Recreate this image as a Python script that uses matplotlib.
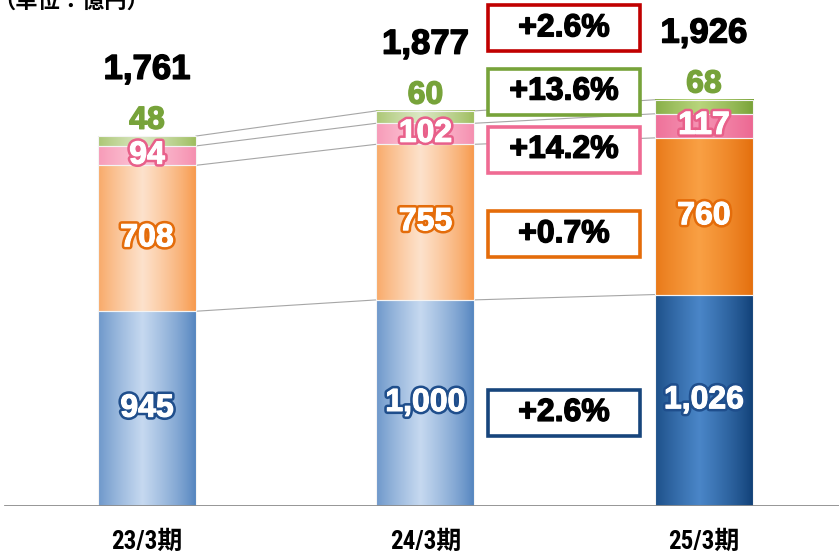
import numpy as np
import matplotlib.pyplot as plt
import matplotlib.patheffects as pe
from matplotlib.patches import Rectangle
from matplotlib.colors import to_rgb

# データ（単位：億円）
periods = ['23/3期', '24/3期', '25/3期']
blue_vals = [945, 1000, 1026]
orange_vals = [708, 755, 760]
pink_vals = [94, 102, 117]
green_vals = [48, 60, 68]
totals = ['1,761', '1,877', '1,926']
growth = ['+2.6%', '+13.6%', '+14.2%', '+0.7%', '+2.6%']

# グラデーション色 (端, 中央)
old_cols = [('#4f81bd', '#c6d9f0'), ('#f79646', '#fde2cc'),
            ('#f58cad', '#fcc6d7'), ('#9bbb59', '#dbe8c4')]
new_cols = [('#0e3d73', '#4a86c8'), ('#e36c0a', '#f9a044'),
            ('#ec6590', '#f593b3'), ('#76a035', '#b8d57c')]
stroke_cols = ['#1f4e8c', '#e46c0a', '#e8608a']
green_txt = '#77a33a'
box_cols = ['#c00000', '#77a33a', '#ef6b93', '#e46c0a', '#17457c']
box_y = [0.944, 0.819, 0.704, 0.537, 0.184]  # 軸座標での中心

plt.rcParams['font.family'] = ['Liberation Sans', 'Noto Sans CJK JP']
plt.rcParams['font.weight'] = 'bold'

fig = plt.figure(figsize=(8.39, 5.52), dpi=100)
ax = fig.add_axes([0, 46 / 552, 1, 506 / 552])

x = np.arange(len(periods))
w = 0.352
series = [blue_vals, orange_vals, pink_vals, green_vals]


def gradient(edge, center, n=200):
    u = np.linspace(0, 1, n)
    t = (1 - np.abs(2 * u - 0.9) / 1.1) ** 0.8
    t = np.clip(t, 0, 1)
    e = np.array(to_rgb(edge))
    c = np.array(to_rgb(center))
    return (e[None, :] + (c - e)[None, :] * t[:, None])[None, :, :]


def heavy(col, lw=1.0):
    # 太字を少し太く見せる
    return [pe.withStroke(linewidth=lw, foreground=col)]


bottoms = np.zeros(len(periods))
levels = []
for k, vals in enumerate(series):
    bars = ax.bar(x, vals, w, bottom=bottoms, facecolor='none',
                  edgecolor='#f4f4f4', linewidth=0.8, zorder=3)
    for i, b in enumerate(bars):
        cols = new_cols[k] if i == 2 else old_cols[k]
        ax.imshow(gradient(*cols), aspect='auto', zorder=2,
                  extent=[b.get_x(), b.get_x() + b.get_width(),
                          b.get_y(), b.get_y() + b.get_height()])
        cy = b.get_y() + b.get_height() / 2
        if k < 3:
            ax.text(b.get_x() + b.get_width() / 2, cy, f'{vals[i]:,}',
                    ha='center', va='center', color='white', fontsize=23,
                    zorder=6,
                    path_effects=[pe.withStroke(linewidth=4.5, foreground=stroke_cols[k]),
                                  pe.withStroke(linewidth=0.8, foreground='white')])
        else:
            ax.annotate(f'{vals[i]}', (b.get_x() + b.get_width() / 2, b.get_y() + b.get_height()),
                        xytext=(0, 11), textcoords='offset points',
                        ha='center', va='center', color=green_txt, fontsize=23,
                        path_effects=heavy(green_txt))
    bottoms = bottoms + np.array(vals)
    levels.append(bottoms.copy())

# 合計
for i, t in enumerate(totals):
    ax.annotate(t, (x[i], levels[-1][i]), xytext=(0, 48), textcoords='offset points',
                ha='center', va='center', color='black', fontsize=25,
                path_effects=heavy('black'))

# 連結線
for i in range(len(periods) - 1):
    for lv in levels:
        ax.plot([x[i] + w / 2, x[i + 1] - w / 2], [lv[i], lv[i + 1]],
                color='#a6a6a6', linewidth=0.8, zorder=1)

# 伸び率ボックス
bw, bh = 152 / 839, 46 / 506
bx = 564 / 839
for txt, col, yc in zip(growth, box_cols, box_y):
    ax.add_patch(Rectangle((bx - bw / 2, yc - bh / 2), bw, bh, transform=ax.transAxes,
                           facecolor='white', edgecolor=col, linewidth=2.6, zorder=7))
    ax.text(bx, yc, txt, transform=ax.transAxes, ha='center', va='center',
            fontsize=23, color='black', zorder=8, path_effects=heavy('black'))

ax.axhline(0, xmin=5 / 839, xmax=1, color='#8c8c8c', linewidth=2, zorder=5)

ax.set_xlim(-0.528, 2.485)
ax.set_ylim(0, 2455)
ax.set_xticks(x, labels=periods)
for lab in ax.get_xticklabels():
    lab.set_family(['Roboto Condensed', 'Liberation Sans Narrow', 'Noto Sans CJK JP'])
    lab.set_fontsize(18)
    lab.set_fontweight('bold')
ax.tick_params(axis='x', length=0, pad=17)
ax.set_yticks([])
for s in ax.spines.values():
    s.set_visible(False)

fig.text(-0.008, 1 - 8 / 552, '（単位：億円）', ha='left', va='baseline',
         fontsize=16, fontweight='bold', family=['Noto Sans CJK JP'], color='black')

fig.savefig('out.png', dpi=100)
